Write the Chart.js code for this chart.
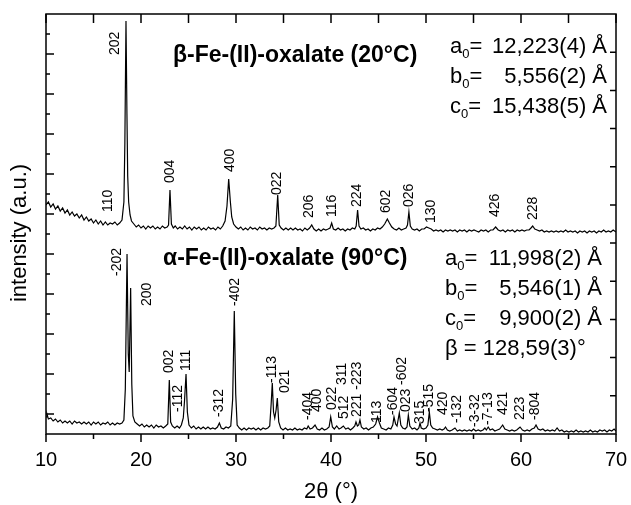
<!DOCTYPE html>
<html>
<head>
<meta charset="utf-8">
<script src="https://cdn.jsdelivr.net/npm/chart.js@4.4.1/dist/chart.umd.min.js"></script>
<style>
  body { margin: 0; background: #fff; }
  canvas { display: block; }
</style>
</head>
<body>
<canvas id="xrd" width="631" height="505"></canvas>
<script>
const FONT = "'Liberation Sans', Arial, sans-serif";

// scans: [2theta, intensity (a.u.)]
const betaScan = [
  [10,229],[10.25,232],[10.5,227],[10.75,230],[11,225],[11.25,228],[11.5,223],[11.75,226],[12,221],[12.25,224],
  [12.5,219],[12.75,222],[13,218],[13.25,220],[13.5,216],[13.75,219],[14,214],[14.25,217],[14.5,213],[14.75,215],
  [15,211],[15.25,214],[15.5,210],[15.75,213],[16,209],[16.25,212],[16.5,209],[16.75,211],[17,210],[17.25,212],
  [17.5,209],[17.75,211],[18,214],[18.2,232],[18.3,290],[18.42,413],[18.52,320],[18.6,258],[18.7,232],[18.85,219],
  [19,213],[19.25,210],[19.5,207],[19.75,209],[20,206],[20.25,208],[20.5,205],[20.75,208],[21,206],[21.25,208],
  [21.5,205],[21.75,207],[22,205],[22.25,208],[22.5,206],[22.75,207],[22.9,209],[23.05,244],[23.2,210],[23.4,206],
  [23.6,208],[23.85,205],[24.1,207],[24.35,205],[24.6,208],[24.85,205],[25.1,207],[25.35,204],[25.6,207],[25.85,205],
  [26.1,207],[26.35,204],[26.6,206],[26.85,204],[27.1,207],[27.35,205],[27.6,206],[27.85,204],[28.1,207],[28.35,205],
  [28.6,208],[28.85,213],[29.05,228],[29.23,255],[29.4,233],[29.55,217],[29.75,210],[30,207],[30.25,205],[30.5,207],
  [30.75,204],[31,206],[31.25,204],[31.5,207],[31.75,205],[32,206],[32.25,204],[32.5,207],[32.75,205],[33,206],
  [33.25,204],[33.5,206],[33.75,205],[34,206],[34.2,208],[34.39,239],[34.55,209],[34.75,206],[35,204],[35.25,206],
  [35.5,204],[35.75,206],[36,204],[36.25,206],[36.5,204],[36.75,205],[37,203],[37.25,206],[37.5,204],[37.75,206],
  [37.97,209],[38.2,205],[38.45,203],[38.7,205],[38.95,203],[39.2,205],[39.45,204],[39.7,205],[39.9,206],[40.07,211],
  [40.25,205],[40.5,204],[40.75,206],[41,204],[41.25,205],[41.5,203],[41.75,205],[42,204],[42.25,206],[42.5,205],
  [42.65,208],[42.8,224],[42.95,208],[43.15,205],[43.4,206],[43.65,204],[43.9,205],[44.15,203],[44.4,205],[44.65,204],
  [44.9,206],[45.15,205],[45.4,207],[45.65,210],[45.93,215],[46.15,211],[46.4,207],[46.65,205],[46.9,204],[47.15,206],
  [47.4,204],[47.65,205],[47.9,206],[48.05,209],[48.2,222],[48.35,208],[48.55,205],[48.8,204],[49.05,205],[49.3,203],
  [49.55,205],[49.8,205],[50.05,207],[50.3,206],[50.55,205],[50.8,203],[51.05,204],[51.3,203],[51.55,204],[51.8,202],
  [52.05,204],[52.3,203],[52.55,204],[52.8,203],[53.05,204],[53.3,202],[53.55,204],[53.8,203],[54.05,204],[54.3,202],
  [54.55,204],[54.8,203],[55.05,204],[55.3,203],[55.55,202],[55.8,204],[56.05,203],[56.3,204],[56.55,202],[56.8,204],
  [57.05,204],[57.33,207],[57.6,204],[57.85,203],[58.1,204],[58.35,202],[58.6,204],[58.85,203],[59.1,204],[59.35,202],
  [59.6,204],[59.85,203],[60.1,204],[60.35,203],[60.6,204],[60.85,204],[61.05,206],[61.23,208],[61.45,205],[61.7,204],
  [61.95,203],[62.2,204],[62.45,202],[62.7,203],[62.95,202],[63.2,203],[63.45,202],[63.7,203],[63.95,202],[64.2,203],
  [64.45,202],[64.7,204],[64.95,202],[65.2,203],[65.45,202],[65.7,203],[65.95,201],[66.2,203],[66.45,202],[66.7,203],
  [66.95,201],[67.2,203],[67.45,202],[67.7,203],[67.95,201],[68.2,203],[68.45,202],[68.7,204],[68.95,202],[69.2,203],
  [69.45,202],[69.7,204],[70,202]
];

const alphaScan = [
  [10,17],[10.1,20],[10.25,15],[10.5,16],[10.75,13],[11,15],[11.25,12],[11.5,14],[11.75,11],[12,13],
  [12.25,11],[12.5,13],[12.75,10],[13,13],[13.25,11],[13.5,12],[13.75,10],[14,12],[14.25,10],[14.5,12],
  [14.75,9],[15,12],[15.25,10],[15.5,12],[15.75,9],[16,11],[16.25,10],[16.5,12],[16.75,9],[17,11],
  [17.25,9],[17.5,11],[17.75,10],[18,11],[18.2,14],[18.35,45],[18.53,180],[18.66,80],[18.76,62],[18.91,146],
  [19.03,50],[19.15,18],[19.35,12],[19.6,10],[19.85,8],[20.1,10],[20.35,7],[20.6,9],[20.85,7],[21.1,9],
  [21.35,6],[21.6,9],[21.85,7],[22.1,8],[22.35,6],[22.6,8],[22.82,10],[22.98,54],[23.12,12],[23.3,8],
  [23.55,6],[23.8,8],[24.05,6],[24.25,9],[24.45,16],[24.58,33],[24.74,60],[24.88,22],[25.05,9],[25.3,6],
  [25.55,8],[25.8,5],[26.05,7],[26.3,5],[26.55,7],[26.8,5],[27.05,7],[27.3,5],[27.55,6],[27.8,5],
  [28.05,7],[28.25,11],[28.45,6],[28.7,5],[28.95,7],[29.2,6],[29.45,8],[29.65,35],[29.82,123],[29.97,40],
  [30.12,9],[30.35,6],[30.6,4],[30.85,6],[31.1,4],[31.35,6],[31.6,5],[31.85,6],[32.1,4],[32.35,6],
  [32.6,4],[32.85,6],[33.1,5],[33.35,6],[33.55,8],[33.7,30],[33.82,51],[33.95,22],[34.08,16],[34.22,24],
  [34.35,36],[34.5,12],[34.7,6],[34.95,4],[35.2,6],[35.45,4],[35.7,5],[35.95,4],[36.2,6],[36.45,4],
  [36.7,5],[36.95,4],[37.2,6],[37.45,5],[37.6,8],[37.8,5],[38.05,6],[38.32,9],[38.55,5],[38.8,4],
  [39.05,6],[39.3,4],[39.55,5],[39.8,7],[39.97,17],[40.15,7],[40.35,5],[40.6,8],[40.85,5],[41.05,6],
  [41.3,8],[41.55,5],[41.8,6],[42.05,4],[42.3,6],[42.5,8],[42.63,12],[42.78,8],[42.92,9],[43.05,14],
  [43.2,7],[43.45,5],[43.7,6],[43.95,4],[44.2,6],[44.45,7],[44.7,10],[44.9,17],[45.1,11],[45.3,6],
  [45.55,5],[45.8,4],[46.05,6],[46.3,5],[46.5,9],[46.63,17],[46.8,10],[46.95,8],[47.19,21],[47.35,9],
  [47.55,6],[47.8,5],[48,7],[48.14,19],[48.3,8],[48.55,5],[48.8,6],[49.05,4],[49.25,6],[49.37,11],
  [49.5,6],[49.75,5],[50,6],[50.2,9],[50.35,22],[50.5,9],[50.7,6],[50.95,5],[51.2,4],[51.45,5],
  [51.7,4],[51.9,5],[52.05,7],[52.25,4],[52.5,3],[52.75,4],[53.05,6],[53.3,3],[53.55,4],[53.8,3],
  [54.05,4],[54.3,3],[54.55,4],[54.8,3],[55,5],[55.25,3],[55.5,4],[55.75,3],[56,4],[56.2,6],
  [56.35,4],[56.55,7],[56.75,4],[57,5],[57.25,3],[57.5,4],[57.75,5],[58.07,9],[58.3,5],[58.55,4],
  [58.8,3],[59.05,4],[59.3,3],[59.55,4],[59.9,7],[60.15,4],[60.4,3],[60.65,4],[60.9,3],[61.15,5],
  [61.4,6],[61.58,9],[61.8,5],[62.05,4],[62.3,5],[62.55,3],[62.8,4],[63.05,3],[63.3,4],[63.55,3],
  [63.8,6],[64.05,3],[64.3,4],[64.55,2],[64.8,3],[65.05,2],[65.3,3],[65.55,2],[65.8,4],[66.05,2],
  [66.3,3],[66.55,2],[66.8,3],[67.05,2],[67.3,4],[67.55,2],[67.8,3],[68.05,2],[68.3,4],[68.55,3],
  [68.8,4],[69.05,2],[69.3,4],[69.55,3],[69.8,5],[70,3]
];

// hkl labels: [text, 2theta, intensity at foot of label]
const betaHkl = [
  ['202',17.26,379],['110',16.55,222],['004',23.05,251],['400',29.37,262],['022',34.35,239],
  ['206',37.72,216],['116',40.07,217],['224',42.8,227],['602',45.85,221],['026',48.25,227],
  ['130',50.5,211],['426',57.33,217],['228',61.23,214]
];
const alphaHkl = [
  ['-202',17.44,158],['200',20.6,128],['002',22.98,61],['111',24.7,63],['-112',23.93,22],
  ['-312',28.25,17],['-402',29.9,128],['-113',33.76,51],['021',35.16,41],['-404',37.6,14],
  ['400',38.56,22],['022',40.07,24],['512',41.37,15],['311',41.22,49],['221 -223',42.8,17],
  ['113',44.88,11],['-604',46.56,19],['-602',47.44,49],['023',47.96,22],['315',49.37,10],
  ['-515',50.35,22],['420',51.82,19],['-132',53.23,11],['-3-32',55.16,7],['-7-13',56.56,9],
  ['421',58.07,19],['223',59.9,14],['-804',61.47,14]
];

const betaTitle = 'β-Fe-(II)-oxalate (20°C)';
const alphaTitle = 'α-Fe-(II)-oxalate (90°C)';
const betaCell = [['a','12,223(4) Å'],['b','5,556(2) Å'],['c','15,438(5) Å']];
const alphaCell = [['a','11,998(2) Å'],['b','5,546(1) Å'],['c','9,900(2) Å']];
const alphaAngle = 'β = 128,59(3)°';

const xTicks = [10,15,20,25,30,35,40,45,50,55,60,65,70];
const leftTicks = [20,40,60,80,100,120,140,160,180,200,220,240,260,280,300,320,340,360,380,400];
const rightTicks = [38.2,76.4,114.5,152.7,190.9,229.1,267.3,305.5,343.6,381.8];

const drawCell = (c, letter, value, x, right, y) => {
  c.textAlign = 'left';
  c.font = `22px ${FONT}`;
  c.fillText(letter, x, y);
  const w = c.measureText(letter).width;
  c.font = `13px ${FONT}`;
  c.fillText('0', x + w, y + 5);
  const w0 = c.measureText('0').width;
  c.font = `22px ${FONT}`;
  c.fillText('=', x + w + w0, y);
  c.textAlign = 'right';
  c.fillText(value, right, y);
};

const decorations = {
  id: 'decorations',
  afterDraw(chart) {
    const c = chart.ctx;
    const {left, right, top, bottom} = chart.chartArea;
    const xs = chart.scales.x;
    const ys = chart.scales.y;
    c.save();
    c.strokeStyle = '#000';
    c.fillStyle = '#000';
    c.lineWidth = 1.5;
    c.strokeRect(left, top, right - left, bottom - top);

    c.beginPath();
    xTicks.forEach(t => {
      const px = xs.getPixelForValue(t);
      c.moveTo(px, bottom);
      c.lineTo(px, bottom + (t % 10 === 0 ? 8 : 5));
      c.moveTo(px, top);
      c.lineTo(px, top + 9);
    });
    leftTicks.forEach((t, i) => {
      const py = ys.getPixelForValue(t);
      c.moveTo(left, py);
      c.lineTo(left + (i % 2 === 0 ? 8 : 4), py);
    });
    rightTicks.forEach(t => {
      const py = ys.getPixelForValue(t);
      c.moveTo(right, py);
      c.lineTo(right - 6, py);
    });
    c.stroke();

    c.font = `14px ${FONT}`;
    c.textAlign = 'left';
    c.textBaseline = 'middle';
    betaHkl.concat(alphaHkl).forEach(([txt, x, y]) => {
      c.save();
      c.translate(xs.getPixelForValue(x), ys.getPixelForValue(y));
      c.rotate(-Math.PI / 2);
      c.fillText(txt, 0, 0);
      c.restore();
    });

    c.textBaseline = 'alphabetic';
    c.font = `bold 23px ${FONT}`;
    c.fillText(betaTitle, 173, 62);
    c.fillText(alphaTitle, 163, 265);

    betaCell.forEach(([l, v], i) => drawCell(c, l, v, 450, 607, 53 + i * 30));
    alphaCell.forEach(([l, v], i) => drawCell(c, l, v, 445, 602, 265 + i * 30));
    c.textAlign = 'left';
    c.font = `22px ${FONT}`;
    c.fillText(alphaAngle, 445, 355);

    c.translate(20, 233);
    c.rotate(-Math.PI / 2);
    c.textAlign = 'center';
    c.textBaseline = 'middle';
    c.fillText('intensity (a.u.)', 0, 0);
    c.restore();
  }
};

const toPoints = scan => scan.map(p => ({x: p[0], y: p[1]}));

new Chart(document.getElementById('xrd').getContext('2d'), {
  type: 'line',
  data: {
    datasets: [
      {data: toPoints(betaScan), borderColor: '#000', borderWidth: 1.2, pointRadius: 0, tension: 0},
      {data: toPoints(alphaScan), borderColor: '#000', borderWidth: 1.2, pointRadius: 0, tension: 0}
    ]
  },
  options: {
    responsive: false,
    animation: false,
    layout: {padding: {top: 14, right: 15, left: 0, bottom: 0}},
    plugins: {legend: {display: false}, tooltip: {enabled: false}},
    scales: {
      x: {
        type: 'linear', min: 10, max: 70,
        grid: {display: false, drawTicks: false},
        border: {display: false},
        ticks: {stepSize: 10, color: '#000', padding: 14, maxRotation: 0, font: {size: 20, family: FONT}},
        title: {display: true, text: '2θ (°)', color: '#000', padding: 0, font: {size: 22, family: FONT}},
        afterFit: s => { s.height = 71; s.paddingLeft = 0; s.paddingRight = 0; }
      },
      y: {
        min: 0, max: 420,
        grid: {display: false, drawTicks: false},
        border: {display: false},
        ticks: {display: false},
        afterFit: s => { s.width = 46; s.paddingTop = 0; s.paddingBottom = 0; }
      }
    }
  },
  plugins: [decorations]
});
</script>
</body>
</html>
